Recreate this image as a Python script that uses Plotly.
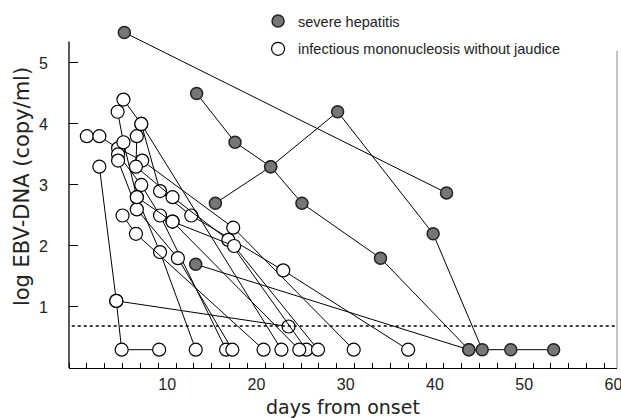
import plotly.graph_objects as go

# ---------------- data ----------------
# severe hepatitis (filled circles)
sev_days = [
    [5.2, 41.3],
    [13.3, 17.6, 21.6, 25.1, 33.9, 43.8],
    [15.4, 21.6, 29.1, 39.8, 45.3, 48.5, 53.3],
    [13.2, 43.8],
]
sev_logs = [
    [5.5, 2.87],
    [4.5, 3.7, 3.3, 2.7, 1.8, 0.3],
    [2.7, 3.3, 4.2, 2.2, 0.3, 0.3, 0.3],
    [1.7, 0.3],
]

# infectious mononucleosis without jaundice (open circles)
im_days = [
    [2.4, 4.3, 4.9, 9.1],
    [4.3, 23.6],
    [1.0, 2.4, 4.5, 7.2, 17.4, 30.9],
    [5.1, 7.1, 9.2, 12.7, 23.0, 37.0],
    [4.45, 5.1, 6.6, 9.2, 13.2],
    [6.6, 6.5, 10.6, 16.85, 25.6],
    [4.5, 7.1, 9.2, 16.6],
    [4.5, 6.6, 11.2, 17.3],
    [5.0, 6.5, 20.8],
    [6.6, 10.6, 17.5, 26.9],
    [7.1, 22.8],
    [10.6, 24.8],
]
im_logs = [
    [3.3, 1.1, 0.3, 0.3],
    [1.1, 0.68],
    [3.8, 3.8, 3.6, 3.4, 2.3, 0.3],
    [4.4, 4.0, 2.9, 2.5, 1.6, 0.3],
    [4.2, 3.7, 2.8, 1.9, 0.3],
    [3.8, 3.3, 2.8, 2.1, 0.3],
    [3.5, 3.0, 2.5, 0.3],
    [3.4, 2.6, 1.8, 0.3],
    [2.5, 2.2, 0.3],
    [2.8, 2.4, 2.0, 0.3],
    [4.0, 0.3],
    [2.4, 0.3],
]

group_names = ["severe hepatitis", "infectious mononucleosis without jaudice"]

detection_limit = 0.69
x_ticks = [10, 20, 30, 40, 50, 60]
y_ticks = [1, 2, 3, 4, 5]

FONT = "Liberation Sans, Arial, Helvetica, sans-serif"
TFONT = "DejaVu Sans, Liberation Sans, sans-serif"

open_marker = dict(size=13, color="white", line=dict(color="black", width=1.2))
filled_marker = dict(size=12, color="#767676", line=dict(color="#222", width=1.5))

fig = go.Figure()

for d, v in zip(im_days, im_logs):
    fig.add_trace(go.Scatter(
        x=d, y=v, mode="lines+markers",
        line=dict(color="black", width=1), marker=open_marker,
        showlegend=False, hoverinfo="x+y",
    ))

for d, v in zip(sev_days, sev_logs):
    fig.add_trace(go.Scatter(
        x=d, y=v, mode="lines+markers",
        line=dict(color="black", width=1), marker=filled_marker,
        showlegend=False, hoverinfo="x+y",
    ))

# legend-only entries (marker without line)
fig.add_trace(go.Scatter(x=[None], y=[None], mode="markers", marker=filled_marker,
                         name=group_names[0], legendgroup="a"))
fig.add_trace(go.Scatter(x=[None], y=[None], mode="markers", marker=open_marker,
                         name=group_names[1], legendgroup="b"))

# detection limit
fig.add_shape(type="line", xref="paper", x0=0.005, x1=1.0, yref="y",
              y0=detection_limit, y1=detection_limit,
              line=dict(color="black", width=1.5, dash="3px,3px"))
# left axis line (stops short of top) and faint right border
fig.add_shape(type="line", xref="paper", x0=0, x1=0, yref="y", y0=0, y1=5.35,
              line=dict(color="black", width=1.3))
fig.add_shape(type="line", xref="paper", x0=1, x1=1, yref="y", y0=0, y1=5.2,
              line=dict(color="#888", width=1))

fig.update_layout(
    width=621, height=418,
    margin=dict(l=69, r=4, t=5, b=50),
    paper_bgcolor="white", plot_bgcolor="white",
    font=dict(family=FONT, color="black"),
    legend=dict(x=0.345, y=1.0, xanchor="left", yanchor="top",
                font=dict(size=14.5, family=FONT, color="#222"),
                bgcolor="rgba(0,0,0,0)", tracegroupgap=6,
                traceorder="grouped", itemwidth=30),
)
fig.update_xaxes(
    range=[-1.0, 60.4], tickvals=x_ticks, ticktext=[str(t) for t in x_ticks],
    ticks="", showline=True, linecolor="black", linewidth=1.3,
    showgrid=False, zeroline=False, tickfont=dict(size=16, color="#222"),
    ticklabelstandoff=2, automargin=False, ticklabeloverflow="allow",
    minor=dict(tick0=1, dtick=2, ticks="inside", ticklen=5, tickcolor="black", showgrid=False),
    title=dict(text="days from onset", font=dict(size=19, family=TFONT, color="#222"), standoff=8),
)
fig.update_yaxes(
    range=[0, 5.95], tickvals=y_ticks, ticktext=[str(t) for t in y_ticks],
    ticks="inside", ticklen=9, tickcolor="black", showline=False,
    showgrid=False, zeroline=False, tickfont=dict(size=16, color="#222"),
    ticklabelstandoff=20, automargin=False,
    title=dict(text="log EBV-DNA (copy/ml)", font=dict(size=21, family=TFONT, color="#222"), standoff=3),
)

fig.write_html("out.html", config={"displayModeBar": False},
               post_script="document.body.style.margin='0';")
